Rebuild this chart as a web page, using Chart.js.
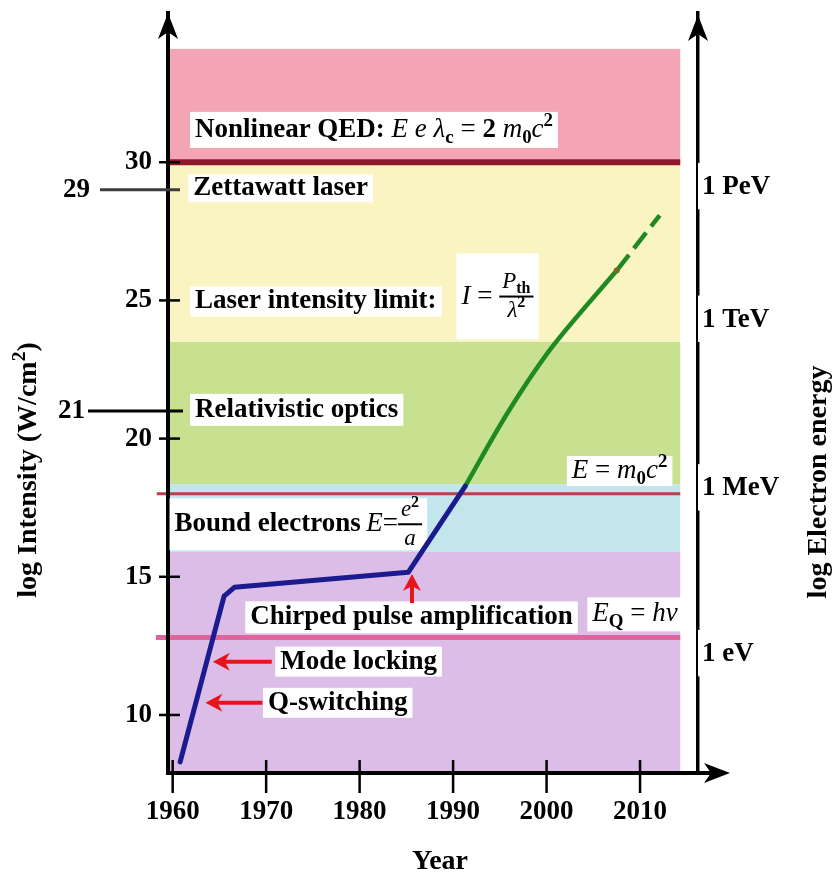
<!DOCTYPE html>
<html>
<head>
<meta charset="utf-8">
<script src="https://cdn.jsdelivr.net/npm/chart.js@4.4.1/dist/chart.umd.min.js"></script>
<style>
  html, body { margin: 0; padding: 0; background: #fff; }
</style>
</head>
<body>
<canvas id="grafico" width="834" height="877"></canvas>
<script>
// ---------------------------------------------------------------
//  Datos (años / log intensidad)
// ---------------------------------------------------------------
const YEAR_TICKS = [1960, 1970, 1980, 1990, 2000, 2010];
const INTENSITY_TICKS = [10, 15, 20, 25, 30];
const EXTRA_TICKS = [29, 21];
const ENERGY_TICKS = [29.1, 24.3, 18.2, 12.2];
const ENERGY_LABELS = ["1 PeV", "1 TeV", "1 MeV", "1 eV"];

// Curva azul (hasta ~1991), verde y proyección punteada.
const BLUE_YEARS = [1960.8, 1965.5, 1966.6, 1985.2, 1991.3];
const BLUE_VALUES = [8.3, 14.3, 14.62, 15.16, 18.28];
const GREEN_YEARS = [1991.3, 1995.9, 2000.7, 2007.5];
const GREEN_VALUES = [18.28, 20.97, 23.36, 26.08];
const PROJ_YEARS = [2007.5, 2012.1];
const PROJ_VALUES = [26.08, 28.08];

// Franjas de régimen (límites en log intensidad).
const BAND_TOPS = [34.1, 30, 23.5, 18.35, 15.9];
const BAND_BOTTOMS = [30, 23.5, 18.35, 15.9, 7.9];
const BAND_END_YEAR = 2014.3;
const LIMIT_VALUES = [30, 18, 12.8];

// Estilos
const BAND_COLORS = ["#f3a5b6", "#faf4c2", "#c7e190", "#c3e5ec", "#dcbde8"];
const LIMIT_STYLES = [
  { color: "#8c1a2c", width: 6, desde: 1959.5 },
  { color: "#b5404f", width: 3, desde: 1958.3 },
  { color: "#e0649e", width: 5, desde: 1958.2 },
];
const SERIF = '"Liberation Serif", "Times New Roman", serif';
const ROJO = "#e8141c";

// Textos del gráfico (partes: f = b/i/r, s = sub/sup)
const ETIQUETAS = [
  { x: 1962.4, y: 31.17, h: 36, items: [
    { t: "Nonlinear QED: ", f: "b" },
    { t: "E", f: "i" }, { t: " e ", f: "i" }, { t: "λ", f: "i" }, { t: "c", f: "b", s: "sub" },
    { t: " = ", f: "r" }, { t: "2 ", f: "b" }, { t: "m", f: "i" }, { t: "0", f: "b", s: "sub" },
    { t: "c", f: "i" }, { t: "2", f: "b", s: "sup" } ] },
  { x: 1962.2, y: 29.06, h: 28, items: [{ t: "Zettawatt laser", f: "b" }] },
  { x: 1962.4, y: 24.96, h: 30, items: [{ t: "Laser intensity limit:", f: "b" }] },
  { x: 1990.9, y: 25.14, h: 86, items: [
    { t: "I", f: "i" }, { t: " = ", f: "r" },
    { num: [{ t: "P", f: "i" }, { t: "th", f: "b", s: "sub" }],
      den: [{ t: "λ", f: "i" }, { t: "2", f: "b", s: "sup" }] } ] },
  { x: 1962.4, y: 21.04, h: 32, items: [{ t: "Relativistic optics", f: "b" }] },
  { x: 2002.7, y: 18.83, h: 30, items: [
    { t: "E", f: "i" }, { t: " = ", f: "r" }, { t: "m", f: "i" }, { t: "0", f: "b", s: "sub" },
    { t: "c", f: "i" }, { t: "2", f: "b", s: "sup" } ] },
  { x: 1960.2, y: 16.9, h: 52, items: [
    { t: "Bound electrons", f: "b" }, { t: "\u2009E", f: "i" }, { t: "=", f: "r" },
    { num: [{ t: "e", f: "i" }, { t: "2", f: "b", s: "sup" }], den: [{ t: "a", f: "i" }] } ] },
  { x: 1968.3, y: 13.53, h: 32, items: [{ t: "Chirped pulse amplification", f: "b" }] },
  { x: 2004.9, y: 13.64, h: 34, items: [
    { t: "E", f: "i" }, { t: "Q", f: "b", s: "sub" }, { t: " = ", f: "r" }, { t: "h", f: "i" }, { t: "ν", f: "i" } ] },
  { x: 1971.5, y: 11.93, h: 30, items: [{ t: "Mode locking", f: "b" }] },
  { x: 1970.2, y: 10.44, h: 30, items: [{ t: "Q-switching", f: "b" }] },
];

// Flechas rojas: [x1, y1, x2 (punta), y2 (punta)]
const FLECHAS = [
  [1970.6, 11.93, 1964.3, 11.93],
  [1969.6, 10.44, 1963.5, 10.44],
  [1985.6, 14.05, 1985.6, 15.1],
];

// ---------------------------------------------------------------
//  Helpers de texto
// ---------------------------------------------------------------
function fuente(f, size) {
  const estilo = f === "i" ? "italic " : f === "b" ? "bold " : "";
  return `${estilo}${size}px ${SERIF}`;
}

function anchoPartes(ctx, partes, size) {
  let w = 0;
  partes.forEach((p) => {
    if (p.num) {
      w += Math.max(anchoPartes(ctx, p.num, size * 0.85), anchoPartes(ctx, p.den, size * 0.85)) + 6;
      return;
    }
    ctx.font = fuente(p.f, p.s ? size * 0.7 : size);
    w += ctx.measureText(p.t).width;
  });
  return w;
}

function escribir(ctx, partes, x, y, size) {
  ctx.textBaseline = "middle";
  ctx.textAlign = "left";
  let cx = x;
  partes.forEach((p) => {
    if (p.num) {
      const fs = size * 0.85;
      const wn = anchoPartes(ctx, p.num, fs);
      const wd = anchoPartes(ctx, p.den, fs);
      const w = Math.max(wn, wd) + 6;
      ctx.fillRect(cx, y - 1, w, 2);
      escribir(ctx, p.num, cx + (w - wn) / 2, y - fs * 0.62, fs);
      escribir(ctx, p.den, cx + (w - wd) / 2, y + fs * 0.62, fs);
      cx += w;
      return;
    }
    const sz = p.s ? size * 0.7 : size;
    ctx.font = fuente(p.f, sz);
    const dy = p.s === "sub" ? size * 0.3 : p.s === "sup" ? -size * 0.33 : 0;
    ctx.fillText(p.t, cx, y + dy);
    cx += ctx.measureText(p.t).width;
  });
  return cx;
}

function flecha(ctx, x1, y1, x2, y2, largo, medio) {
  const ang = Math.atan2(y2 - y1, x2 - x1);
  const cos = Math.cos(ang), sin = Math.sin(ang);
  const bx = x2 - cos * largo;
  const by = y2 - sin * largo;
  ctx.setLineDash([]);
  ctx.beginPath();
  ctx.moveTo(x1, y1);
  ctx.lineTo(x2 - cos * largo * 0.5, y2 - sin * largo * 0.5);
  ctx.stroke();
  ctx.beginPath();
  ctx.moveTo(x2, y2);
  ctx.lineTo(bx + sin * medio, by - cos * medio);
  ctx.lineTo(x2 - cos * largo * 0.7, y2 - sin * largo * 0.7);
  ctx.lineTo(bx - sin * medio, by + cos * medio);
  ctx.closePath();
  ctx.fill();
}

// ---------------------------------------------------------------
//  Plugins de dibujo
// ---------------------------------------------------------------
const bandas = {
  id: "bandas",
  beforeDraw(chart) {
    const { ctx, chartArea: a, scales: { x, y } } = chart;
    const xFin = x.getPixelForValue(BAND_END_YEAR);
    ctx.save();
    BAND_TOPS.forEach((top, i) => {
      const y0 = y.getPixelForValue(top);
      const y1 = y.getPixelForValue(BAND_BOTTOMS[i]);
      ctx.fillStyle = BAND_COLORS[i];
      ctx.fillRect(a.left, y0, xFin - a.left, y1 - y0);
    });
    LIMIT_VALUES.forEach((v, i) => {
      const st = LIMIT_STYLES[i];
      const py = y.getPixelForValue(v);
      ctx.strokeStyle = st.color;
      ctx.lineWidth = st.width;
      ctx.beginPath();
      ctx.moveTo(x.getPixelForValue(st.desde), py);
      ctx.lineTo(xFin, py);
      ctx.stroke();
    });
    ctx.restore();
  },
};

const anotaciones = {
  id: "anotaciones",
  beforeDatasetsDraw(chart) {
    const { ctx, scales: { x, y } } = chart;
    ctx.save();
    ETIQUETAS.forEach((e) => {
      const px = x.getPixelForValue(e.x);
      const py = y.getPixelForValue(e.y);
      const w = anchoPartes(ctx, e.items, 27);
      ctx.fillStyle = "#fff";
      ctx.fillRect(px - 5, py - e.h / 2, w + 10, e.h);
      ctx.fillStyle = "#000";
      escribir(ctx, e.items, px, py, 27);
    });
    ctx.strokeStyle = ROJO;
    ctx.fillStyle = ROJO;
    ctx.lineWidth = 4;
    FLECHAS.forEach(([x1, y1, x2, y2]) => {
      flecha(ctx, x.getPixelForValue(x1), y.getPixelForValue(y1),
        x.getPixelForValue(x2), y.getPixelForValue(y2), 17, 9);
    });
    ctx.restore();
  },
};

const ejes = {
  id: "ejes",
  afterDraw(chart) {
    const { ctx, chartArea: a, scales: { x, y } } = chart;
    ctx.save();
    ctx.setLineDash([]);
    ctx.fillStyle = "#000";
    ctx.strokeStyle = "#000";

    // prolongación del eje X y puntas de flecha
    ctx.lineWidth = 4;
    ctx.beginPath();
    ctx.moveTo(a.right, a.bottom);
    ctx.lineTo(a.right + 26, a.bottom);
    ctx.stroke();
    const punta = (tx, ty, dx, dy) => {
      const px = -dy, py = dx;
      ctx.beginPath();
      ctx.moveTo(tx, ty);
      ctx.lineTo(tx - dx * 26 + px * 10, ty - dy * 26 + py * 10);
      ctx.lineTo(tx - dx * 19, ty - dy * 19);
      ctx.lineTo(tx - dx * 26 - px * 10, ty - dy * 26 - py * 10);
      ctx.closePath();
      ctx.fill();
    };
    punta(a.left, a.top, 0, -1);
    punta(a.right, a.top + 2, 0, -1);
    punta(a.right + 32, a.bottom, 1, 0);

    // marcas de los ejes (cruzan la línea)
    ctx.lineWidth = 2.5;
    x.ticks.forEach((t) => {
      const px = x.getPixelForValue(t.value);
      ctx.beginPath();
      ctx.moveTo(px, a.bottom - 13);
      ctx.lineTo(px, a.bottom + 20);
      ctx.stroke();
    });
    y.ticks.forEach((t) => {
      const py = y.getPixelForValue(t.value);
      ctx.beginPath();
      ctx.moveTo(a.left - 9, py);
      ctx.lineTo(a.left + 12, py);
      ctx.stroke();
    });

    // marcas extra 29 y 21
    ctx.lineWidth = 3;
    ctx.font = `bold 27px ${SERIF}`;
    ctx.textAlign = "right";
    ctx.textBaseline = "middle";
    EXTRA_TICKS.forEach((v, i) => {
      const py = y.getPixelForValue(v);
      const x0 = i === 0 ? 100 : 88;
      ctx.strokeStyle = i === 0 ? "#3c3c3c" : "#000";
      ctx.beginPath();
      ctx.moveTo(x0, py);
      ctx.lineTo(a.left + (i === 0 ? 12 : 15), py);
      ctx.stroke();
      ctx.fillText(String(v), x0 - (i === 0 ? 10 : 3), py);
    });

    // títulos de ejes
    ctx.fillStyle = "#000";
    const tituloV = (partes, cx, cy) => {
      ctx.save();
      ctx.translate(cx, cy);
      ctx.rotate(-Math.PI / 2);
      const w = anchoPartes(ctx, partes, 28);
      escribir(ctx, partes, -w / 2, 0, 28);
      ctx.restore();
    };
    tituloV([{ t: "log Intensity (W/cm", f: "b" }, { t: "2", f: "b", s: "sup" }, { t: ")", f: "b" }], 29, 470);
    tituloV([{ t: "log Electron energy", f: "b" }], 819, 482);
    const wy = anchoPartes(ctx, [{ t: "Year", f: "b" }], 28);
    escribir(ctx, [{ t: "Year", f: "b" }], 440 - wy / 2, 862, 28);
    ctx.restore();
  },
};

// ---------------------------------------------------------------
//  Gráfico
// ---------------------------------------------------------------
const puntos = (xs, ys) => xs.map((v, i) => ({ x: v, y: ys[i] }));
const fuenteTicks = { family: SERIF, size: 27, weight: "bold" };

new Chart(document.getElementById("grafico"), {
  type: "line",
  data: {
    datasets: [
      {
        label: "Intensidad",
        data: puntos(BLUE_YEARS, BLUE_VALUES),
        borderColor: "#1b1b8f",
        borderWidth: 5,
        pointRadius: 0,
        tension: 0,
        borderCapStyle: "round",
        borderJoinStyle: "round",
      },
      {
        label: "Intensidad (CPA)",
        data: puntos(GREEN_YEARS, GREEN_VALUES),
        borderColor: "#1f8a22",
        borderWidth: 4.5,
        tension: 0.3,
        pointRadius: (c) => (c.dataIndex === GREEN_YEARS.length - 1 ? 3 : 0),
        pointBackgroundColor: "#7a6a24",
        pointBorderWidth: 0,
      },
      {
        label: "Proyección",
        data: puntos(PROJ_YEARS, PROJ_VALUES),
        borderColor: "#1f8a22",
        borderWidth: 4.5,
        borderDash: [20, 8],
        pointRadius: 0,
      },
    ],
  },
  options: {
    responsive: false,
    animation: false,
    layout: { padding: { top: 13, left: 0, right: 0, bottom: 0 } },
    plugins: { legend: { display: false }, tooltip: { enabled: false } },
    scales: {
      x: {
        type: "linear",
        min: 1959.5,
        max: 2016.2,
        grid: { display: false, drawTicks: false },
        border: { display: true, color: "#000", width: 4 },
        ticks: { font: fuenteTicks, color: "#000", padding: 23, maxRotation: 0, autoSkip: false,
          callback: (v) => String(v) },
        afterBuildTicks: (s) => { s.ticks = YEAR_TICKS.map((v) => ({ value: v })); },
        afterFit: (s) => { s.height = 104; s.paddingLeft = 0; s.paddingRight = 0; },
      },
      y: {
        type: "linear",
        position: "left",
        min: 7.9,
        max: 35.4,
        grid: { display: false, drawTicks: false },
        border: { display: true, color: "#000", width: 4 },
        ticks: { font: fuenteTicks, color: "#000", padding: 16, autoSkip: false },
        afterBuildTicks: (s) => { s.ticks = INTENSITY_TICKS.map((v) => ({ value: v })); },
        afterFit: (s) => { s.width = 168; s.paddingTop = 0; s.paddingBottom = 0; },
      },
      y2: {
        type: "linear",
        position: "right",
        min: 7.9,
        max: 35.4,
        grid: { display: false, drawTicks: false },
        border: { display: true, color: "#000", width: 3.5 },
        ticks: {
          font: fuenteTicks,
          color: "#000",
          padding: 4,
          autoSkip: false,
          showLabelBackdrop: true,
          backdropColor: "#fff",
          backdropPadding: { left: 15, right: 4, top: 8, bottom: 6 },
          callback: (v, i) => ENERGY_LABELS[i],
        },
        afterBuildTicks: (s) => { s.ticks = ENERGY_TICKS.map((v) => ({ value: v })); },
        afterFit: (s) => { s.width = 136; s.paddingTop = 0; s.paddingBottom = 0; },
      },
    },
  },
  plugins: [bandas, anotaciones, ejes],
});
</script>
</body>
</html>
